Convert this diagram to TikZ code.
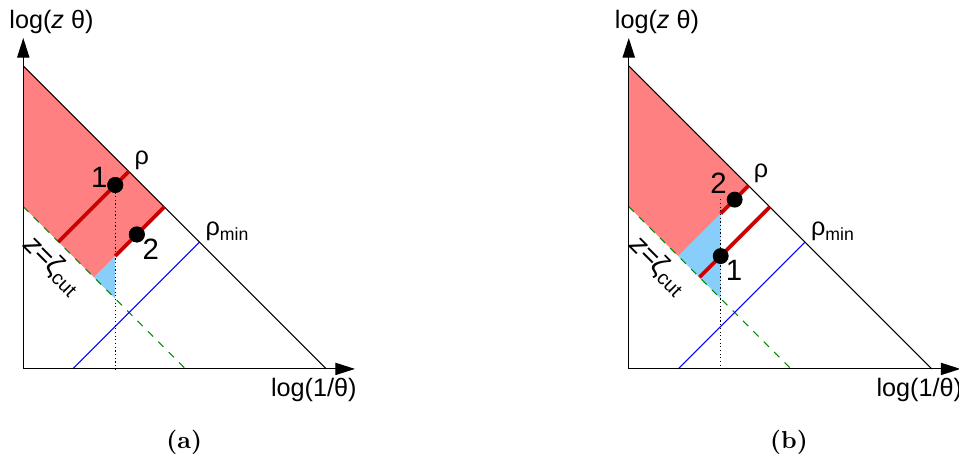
\documentclass[tikz,border=0pt]{standalone}
\usepackage{fontspec}
\newfontfamily\lblfont{Liberation Sans}
\usetikzlibrary{arrows.meta}

\definecolor{regionred}{RGB}{255,128,128}
\definecolor{regionblue}{RGB}{135,206,250}
\definecolor{linered}{RGB}{204,0,0}
\definecolor{cutgreen}{RGB}{0,140,0}

\begin{document}
\begin{tikzpicture}[
    axis/.style={line width=0.45pt,-{Triangle[length=8pt,width=5pt]}},
    edge/.style={line width=0.45pt},
    cutline/.style={cutgreen,line width=0.45pt,dash pattern=on 3pt off 3pt},
    minline/.style={blue,line width=0.45pt},
    emission/.style={linered,line width=1.5pt},
    guide/.style={densely dotted,line width=0.5pt},
    dot/.style={circle,fill=black,inner sep=0pt,minimum size=6.5pt},
    lbl/.style={font=\lblfont\fontsize{10.3}{12}\selectfont},
    num/.style={font=\lblfont\fontsize{12}{14}\selectfont},
    cutlbl/.style={font=\lblfont\fontsize{11.5}{13}\selectfont,rotate=-45}
]

\useasboundingbox (-0.334,-1.22) rectangle (13.43,5.295);

% ---- panel (a) ----

% regions
\fill[regionred] (0,4.35) -- (2.025,2.325) -- (1.015,1.315) -- (0,2.33) -- cycle;
\fill[regionblue] (1.015,1.315) -- (1.32,1.62) -- (1.32,1.01) -- cycle;

% cut and rho_min lines
\draw[cutline] (0,2.33) -- (2.33,0);
\draw[minline] (0.71,0) -- (2.53,1.82);

% edge of phase space
\draw[edge] (0,4.35) -- (4.35,0);

% axes
\draw[axis] (0,0) -- (4.76,0);
\draw[axis] (0,0) -- (0,4.75);
\node[lbl] (a-ylbl) at (0.405,4.98) {log({\itshape z} θ)};
\node[lbl] (a-xlbl) at (4.17,-0.30) {log(1/θ)};

% emissions
\node[dot] (a-p1) at (1.32,2.64) {};
\node[dot] (a-p2) at (1.63,1.93) {};
\draw[guide] (a-p1.center) -- (1.32,0);
\draw[emission] (0.505,1.825) -- (1.515,2.835);
\draw[emission] (1.32,1.62) -- (2.025,2.325);
\node[dot] at (a-p1) {};
\node[dot] at (a-p2) {};

% labels
\node[num] (a-n1) at (1.09,2.75) {1};
\node[num] (a-n2) at (1.83,1.72) {2};
\node[lbl] (a-rho) at (1.70,3.0) {ρ};
\node[lbl,anchor=base west,inner sep=0pt] (a-rhomin) at (2.61,1.91) {ρ\textsubscript{min}};
\node[cutlbl] (a-cut) at (0.43,1.48) {{\itshape z}=ζ\textsubscript{cut}};
\node (a-cap) at (2.31,-1.06) {\textbf{(a)}};

% ---- panel (b) ----
\begin{scope}[xshift=8.69cm]

% regions
\fill[regionred] (0,4.35) -- (1.72,2.63) -- (0.71,1.62) -- (0,2.33) -- cycle;
\fill[regionblue] (0.71,1.62) -- (1.32,2.23) -- (1.32,1.01) -- cycle;

% cut and rho_min lines
\draw[cutline] (0,2.33) -- (2.33,0);
\draw[minline] (0.71,0) -- (2.53,1.82);

% edge of phase space
\draw[edge] (0,4.35) -- (4.35,0);

% axes
\draw[axis] (0,0) -- (4.76,0);
\draw[axis] (0,0) -- (0,4.75);
\node[lbl] (b-ylbl) at (0.405,4.98) {log({\itshape z} θ)};
\node[lbl] (b-xlbl) at (4.17,-0.30) {log(1/θ)};

% emissions
\draw[guide] (1.32,2.435) -- (1.32,0);
\draw[emission] (1.32,2.23) -- (1.72,2.63);
\draw[emission] (1.015,1.315) -- (2.025,2.325);
\node[dot] (b-p2) at (1.52,2.43) {};
\node[dot] (b-p1) at (1.32,1.62) {};

% labels
\node[num] (b-n2) at (1.29,2.66) {2};
\node[num] (b-n1) at (1.51,1.42) {1};
\node[lbl] (b-rho) at (1.90,2.81) {ρ};
\node[lbl,anchor=base west,inner sep=0pt] (b-rhomin) at (2.61,1.91) {ρ\textsubscript{min}};
\node[cutlbl] (b-cut) at (0.43,1.48) {{\itshape z}=ζ\textsubscript{cut}};
\node (b-cap) at (2.30,-1.06) {\textbf{(b)}};

\end{scope}

\end{tikzpicture}
\end{document}
